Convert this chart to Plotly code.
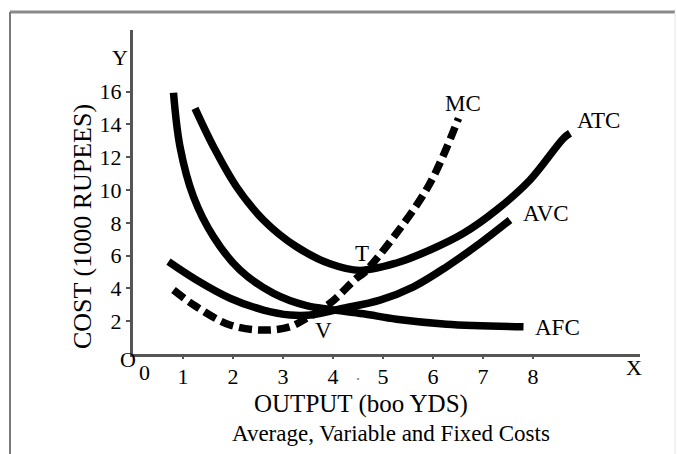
import plotly.graph_objects as go

# ---- data ----
afc_x = [0.81, 0.94, 1.21, 1.61, 2.14, 2.81, 3.47, 3.94, 4.61, 5.27, 6.27, 7.81]
afc_y = [15.93, 12.64, 9.59, 7.15, 5.12, 3.70, 2.95, 2.72, 2.45, 2.12, 1.82, 1.66]

avc_x = [0.71, 1.27, 1.94, 2.61, 3.14, 3.61, 4.14, 4.94, 5.61, 6.27, 6.94, 7.54]
avc_y = [5.63, 4.51, 3.40, 2.68, 2.38, 2.40, 2.75, 3.29, 4.10, 5.32, 6.75, 8.17]

atc_x = [1.24, 1.61, 2.07, 2.61, 3.27, 3.94, 4.54, 5.27, 5.94, 6.61, 7.27, 7.94, 8.61, 8.74]
atc_y = [14.98, 12.64, 10.20, 8.17, 6.54, 5.50, 5.10, 5.55, 6.34, 7.36, 8.78, 10.61, 13.15, 13.46]

mc_x = [0.81, 1.27, 1.94, 2.61, 3.14, 3.47, 3.94, 4.47, 4.61, 5.27, 5.94, 6.51]
mc_y = [3.90, 2.88, 1.77, 1.46, 1.66, 2.18, 3.09, 4.62, 4.92, 7.36, 10.41, 14.37]

x_ticks = [1, 2, 3, 4, 5, 6, 7, 8]
y_ticks = [2, 4, 6, 8, 10, 12, 14, 16]

curve_labels = ["MC", "ATC", "AVC", "AFC", "T", "V"]
label_x = [6.6, 9.3, 8.26, 8.48, 4.58, 3.8]
label_y = [15.3, 14.27, 8.54, 1.59, 6.16, 1.46]

FONT = "Liberation Serif, Times New Roman, serif"

fig = go.Figure()
for xs, ys, dash in [(afc_x, afc_y, "solid"), (avc_x, avc_y, "solid"),
                     (atc_x, atc_y, "solid"), (mc_x, mc_y, "13px,6px")]:
    fig.add_trace(go.Scatter(x=xs, y=ys, mode="lines",
                             line=dict(color="black", width=7.5, shape="spline",
                                       smoothing=1.0, dash=dash),
                             hoverinfo="skip", showlegend=False))

for t, lx, ly in zip(curve_labels, label_x, label_y):
    fig.add_annotation(x=lx, y=ly, text=t, showarrow=False,
                       font=dict(family=FONT, size=23, color="black"))


def paper_text(x, y, text, size, angle=0, xref="paper", color="black"):
    fig.add_annotation(xref=xref, yref="paper", x=x, y=y, text=text,
                       xanchor="center", yanchor="middle", textangle=angle,
                       showarrow=False,
                       font=dict(family=FONT, size=size, color=color))


# extra text around axes
paper_text(0.22, -0.0586, "0", 22, xref="x")
paper_text(4.5, -0.062, ".", 16, xref="x", color="#777777")
paper_text(-0.01, -0.018, "O", 22)
paper_text(-0.025, 0.914, "Y", 22)
paper_text(0.988, -0.043, "X", 22)
paper_text(-0.0986, 0.392, "COST (1000 RUPEES)", 26, angle=-90)
paper_text(0.45, -0.154, "OUTPUT (boo YDS)", 25)
paper_text(0.509, -0.244, "Average, Variable and Fixed Costs", 23)

# frame lines
fig.add_shape(type="line", xref="paper", yref="paper", x0=-0.2426, x1=1.069,
              y0=1.0556, y1=1.0556, line=dict(color="#8a8a8a", width=3))
fig.add_shape(type="line", xref="paper", yref="paper", x0=-0.2426, x1=-0.2426,
              y0=1.0556, y1=-0.35, line=dict(color="#7a7a7a", width=2))
fig.add_shape(type="line", xref="paper", yref="paper", x0=1.069, x1=1.069,
              y0=1.0556, y1=-0.35, line=dict(color="#e4e4e4", width=1))

fig.update_xaxes(range=[0, 10.14], showgrid=False, zeroline=False, automargin=False,
                 showline=True, linecolor="#555555", linewidth=3,
                 tickvals=x_ticks, ticks="outside", ticklen=2, tickwidth=2,
                 tickcolor="#555555", ticklabelstandoff=-1,
                 tickfont=dict(family=FONT, size=22, color="black"))
fig.update_yaxes(range=[0, 19.76], showgrid=False, zeroline=False, automargin=False,
                 showline=True, linecolor="#555555", linewidth=3,
                 tickvals=y_ticks, ticks="outside", ticklen=4, tickwidth=2,
                 tickcolor="#555555", ticklabelstandoff=0,
                 tickfont=dict(family=FONT, size=22, color="black"))

fig.update_layout(width=677, height=454, margin=dict(l=133, r=37, t=30, b=100),
                  plot_bgcolor="white", paper_bgcolor="white")
fig.write_html("out.html", config={"displayModeBar": False},
               post_script="document.body.style.margin='0';"
                           "document.body.style.overflow='hidden';")
